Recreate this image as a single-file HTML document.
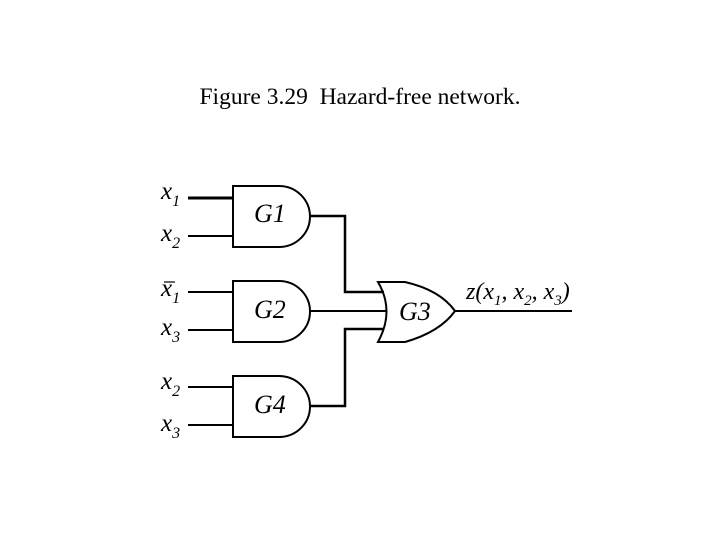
<!DOCTYPE html>
<html><head><style>
body{margin:0;width:720px;height:540px;background:#fff;overflow:hidden}
text{font-family:"Liberation Serif",serif}
</style></head><body>
<svg width="720" height="540" viewBox="0 0 720 540">
<text x="360" y="104" font-size="23.5" text-anchor="middle">Figure 3.29&#160; Hazard-free network.</text>
<g stroke="#000" stroke-width="2" fill="none">
<line x1="188" y1="198" x2="233" y2="198" stroke-width="3"/>
<line x1="188" y1="236" x2="233" y2="236"/>
<line x1="188" y1="292" x2="233" y2="292"/>
<line x1="188" y1="330" x2="233" y2="330"/>
<line x1="188" y1="387" x2="233" y2="387"/>
<line x1="188" y1="425" x2="233" y2="425"/>
<path d="M233,186 H279 A31,30.5 0 0 1 279,247 H233 Z"/>
<path d="M233,281 H279 A31,30.5 0 0 1 279,342 H233 Z"/>
<path d="M233,376 H279 A31,30.5 0 0 1 279,437 H233 Z"/>
<path d="M310,216 H345 V292 H384" stroke-width="2.5"/>
<line x1="310" y1="311" x2="386" y2="311"/>
<path d="M310,406 H345 V329 H384" stroke-width="2.5"/>
<path d="M378,282 H405 Q440,290 455,311 Q440,332 405,342 H378 Q395,311 378,282 Z"/>
<line x1="455" y1="311" x2="572" y2="311"/>
</g>
<g font-style="italic" font-size="25">
<text x="161" y="199">x<tspan font-size="16" dy="7">1</tspan></text>
<text x="161" y="241">x<tspan font-size="16" dy="7">2</tspan></text>
<text x="161" y="296">x<tspan font-size="16" dy="7">1</tspan></text>
<line x1="164" y1="282" x2="175" y2="282" stroke="#000" stroke-width="1.2"/>
<text x="161" y="335">x<tspan font-size="16" dy="7">3</tspan></text>
<text x="161" y="389">x<tspan font-size="16" dy="7">2</tspan></text>
<text x="161" y="431">x<tspan font-size="16" dy="7">3</tspan></text>
<text x="254" y="222" font-size="26">G1</text>
<text x="254" y="318" font-size="26">G2</text>
<text x="254" y="413" font-size="26">G4</text>
<text x="399" y="320" font-size="26">G3</text>
<text x="466" y="299" font-size="24">z(x<tspan font-size="15" dy="6">1</tspan><tspan dy="-6">, x</tspan><tspan font-size="15" dy="6">2</tspan><tspan dy="-6">, x</tspan><tspan font-size="15" dy="6">3</tspan><tspan dy="-6">)</tspan></text>
</g>
</svg>
</body></html>
